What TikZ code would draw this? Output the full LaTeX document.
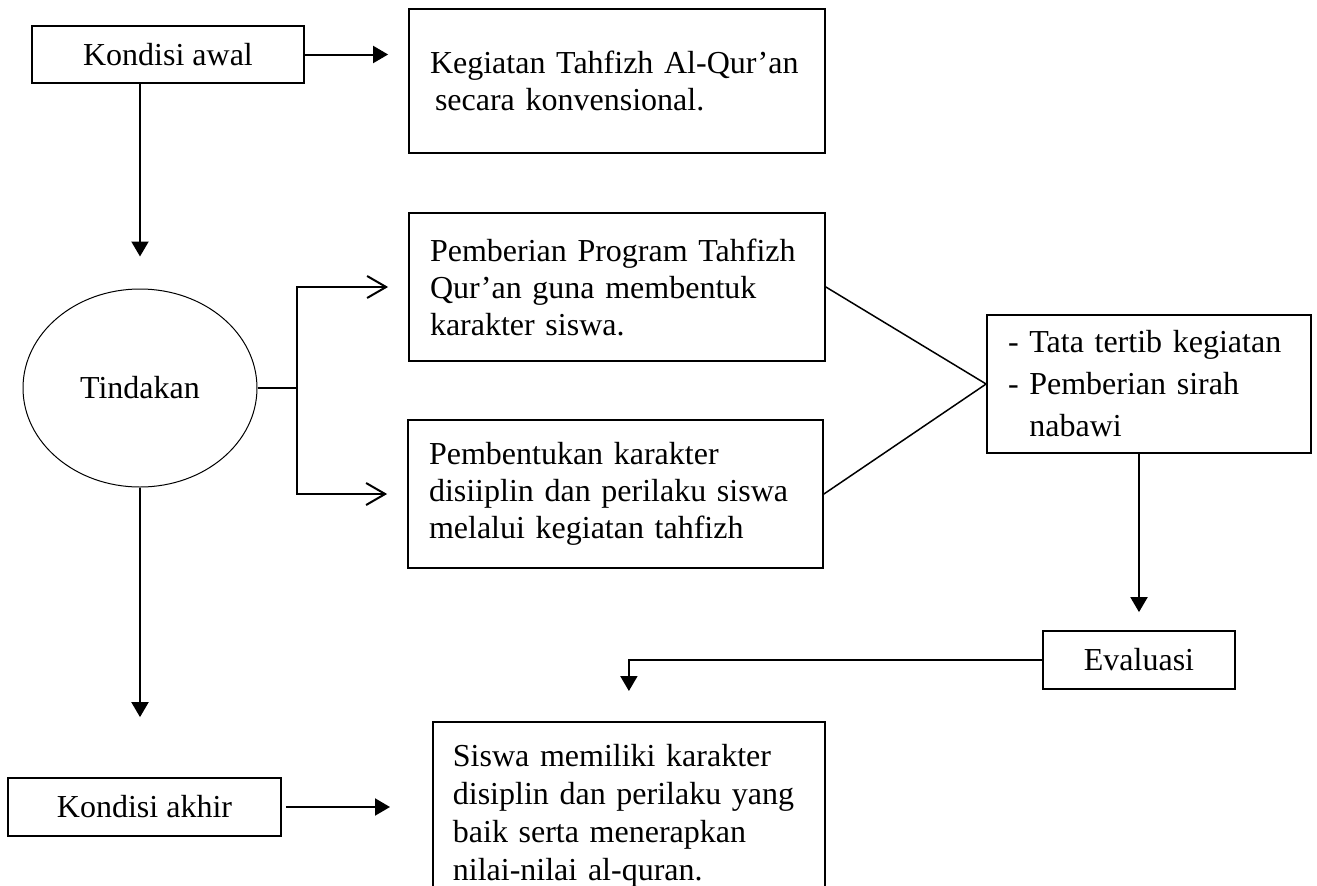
\documentclass[tikz,border=0pt]{standalone}
\usepackage{fontspec}
\setmainfont{Liberation Serif}
\usetikzlibrary{arrows.meta,calc,shapes.geometric}

\begin{document}
\begin{tikzpicture}[x=1pt,y=-1pt,
  box/.style={draw,line width=1.8pt,inner xsep=21pt,inner ysep=0pt,font=\fontsize{32}{37}\selectfont},
  txtbox/.style={box,align=left},
  >={Triangle[length=15pt,width=17pt]}]
\useasboundingbox (0,0) rectangle (1317,886);
\node[box,minimum width=272pt,minimum height=57pt] (awal) at (168,54.5) {Kondisi awal};
\node[txtbox,text width=374pt,minimum height=144pt] (kegiatan) at (617,81) {Kegiatan Tahfizh Al-Qur’an\\\hspace*{5pt}secara konvensional.};
\node[draw,ellipse,line width=1pt,minimum width=234pt,minimum height=198pt,font=\fontsize{32}{37}\selectfont] (tindakan) at (140,388) {Tindakan};
\node[txtbox,text width=374pt,minimum height=148pt] (program) at (617,287) {Pemberian Program Tahfizh\\Qur’an guna membentuk\\karakter siswa.};
\node[txtbox,text width=373pt,minimum height=148pt] (karakter) at (615.5,494) {Pembentukan karakter\\disiiplin dan perilaku siswa\\melalui kegiatan tahfizh};
\node[txtbox,text width=282pt,minimum height=138pt,font=\fontsize{32}{42}\selectfont] (tatatertib) at (1149,384) {- Tata tertib kegiatan\\- Pemberian sirah\\\phantom{- }nabawi};
\node[box,minimum width=192pt,minimum height=58pt] (evaluasi) at (1139,660) {Evaluasi};
\node[box,minimum width=273pt,minimum height=58pt] (akhir) at (144.5,807) {Kondisi akhir};
\node[txtbox,anchor=north west,text width=352pt,inner xsep=20pt,inner ysep=22pt,font=\fontsize{32}{38}\selectfont] (hasil) at (432,721) {Siswa memiliki karakter\\disiplin dan perilaku yang\\baik serta menerapkan\\nilai-nilai al-quran.};
\coordinate (fork) at (297,388);
\path[->,line width=2pt]
(awal.east) edge[shorten >=20pt] (awal.east -| kegiatan.west)
(awal.south -| tindakan.north) edge[shorten >=32pt] (tindakan.north)
(tindakan.south) edge[shorten >=60pt] (tindakan.south |- akhir.north)
(akhir.east) edge[shorten <=4pt,shorten >=42pt] (akhir.east -| hasil.west)
(tatatertib.south -| evaluasi.north) edge[shorten >=18pt] (evaluasi.north);
\draw[->,line width=2pt,shorten >=30pt] (evaluasi.west) -| (hasil.north);
\draw[line width=1.5pt] (tindakan.east) -- (fork);
\draw[-{Straight Barb[length=19pt,width=22pt]},line width=2pt,shorten >=20pt] (fork) |- (program.west);
\draw[-{Straight Barb[length=19pt,width=22pt]},line width=2pt,shorten >=20pt] (fork) |- (karakter.west);
\path[line width=1.5pt]
(program.east) edge (tatatertib.west)
(karakter.east) edge (tatatertib.west);
\end{tikzpicture}
\end{document}
